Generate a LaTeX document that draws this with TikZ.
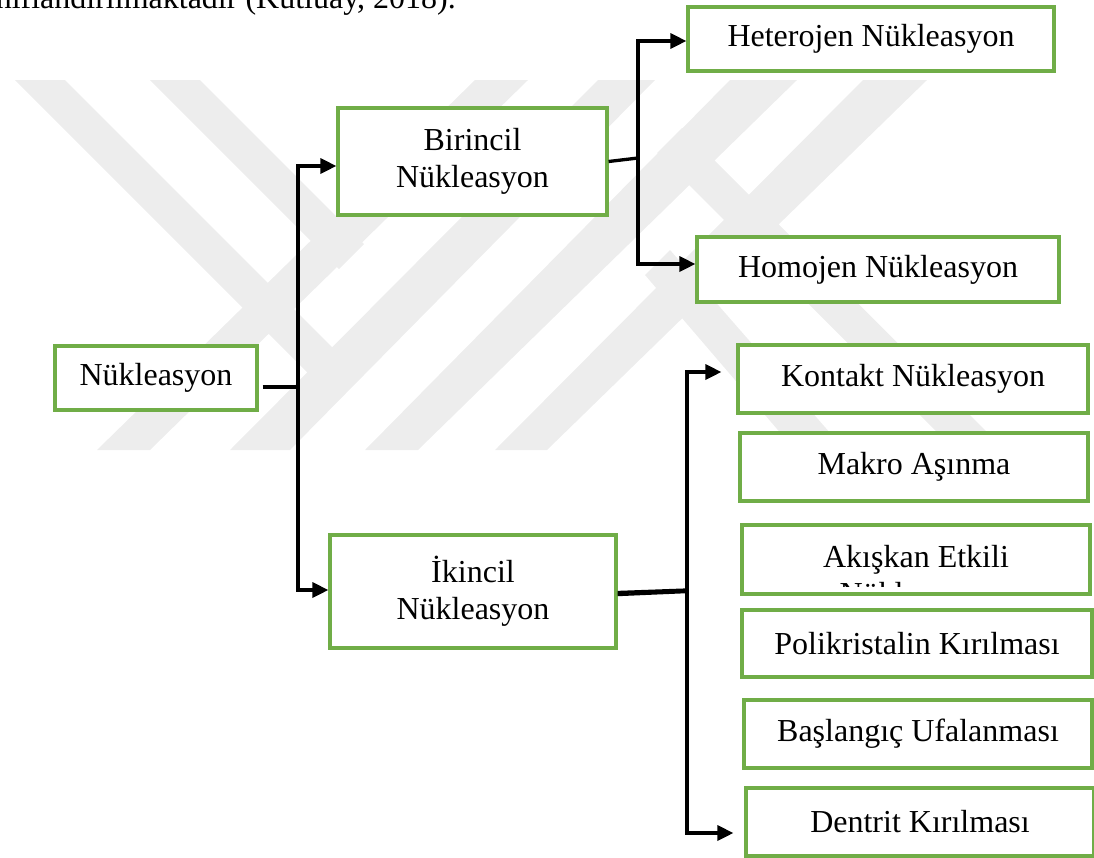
\documentclass[tikz,border=0pt]{standalone}
\usepackage{fontspec}
\setmainfont{Liberation Serif}
\usetikzlibrary{arrows.meta,calc}
\definecolor{boxgreen}{RGB}{112,173,71}
\definecolor{wm}{RGB}{237,237,237}
\begin{document}
\begin{tikzpicture}[x=1pt,y=-1pt,
  box/.style={draw=boxgreen,line width=3.2pt,fill=white,inner sep=0pt,
    font=\fontsize{32}{37}\selectfont,align=center},
  label/.style={inner sep=0pt,font=\fontsize{32}{37}\selectfont,align=center},
  conn/.style={line width=3.3pt,draw=black},
  arr/.style={conn,-{Triangle[length=16pt,width=15pt]}},
  band/.style={fill=wm,draw=none}]
\clip (0,0) rectangle (1094,857);
\useasboundingbox (0,0) rectangle (1094,857);
% watermark
\fill[band] (475,80) -- (528,80) -- (150,450) -- (97,450) -- cycle;
\fill[band] (598,80) -- (655,80) -- (290,450) -- (230,450) -- cycle;
\fill[band] (730,80) -- (797,80) -- (418,450) -- (365,450) -- cycle;
\fill[band] (863,80) -- (927,80) -- (547,450) -- (495,450) -- cycle;
\fill[band] (15,80) -- (65,80) -- (360,375) -- (335,400) -- cycle;
\fill[band] (150,80) -- (200,80) -- (364,244) -- (339,269) -- cycle;
\fill[band] (657,153) -- (682,128) -- (1005,450) -- (955,450) -- cycle;
\fill[band] (645,275) -- (670,250) -- (845,450) -- (795,450) -- cycle;
% caption line cut at the top
\node[label,anchor=base east] (cap) at (456,8) {sınıflandırılmaktadır (Kutluay, 2018).};
% boxes
\node[box,minimum width=366pt,minimum height=64pt] (het) at (871,39) {Heterojen Nükleasyon};
\node[box,minimum width=269pt,minimum height=107pt] (bir) at (472.5,161.5) {Birincil\\Nükleasyon};
\node[box,minimum width=362pt,minimum height=65pt] (hom) at (878,269.5) {Homojen Nükleasyon};
\node[box,minimum width=202pt,minimum height=64pt] (nuk) at (156,378) {Nükleasyon};
\node[box,minimum width=286pt,minimum height=113pt] (iki) at (473,591.5) {İkincil\\Nükleasyon};
\node[box,minimum width=350pt,minimum height=68pt] (kon) at (913,379) {Kontakt Nükleasyon};
\node[box,minimum width=348pt,minimum height=68pt] (mak) at (914,467) {Makro Aşınma};
\node[box,minimum width=348pt,minimum height=69pt] (aki) at (916,559.5) {};
\begin{scope}
  \clip (744,527) rectangle (1088,586);
  \node[label] (akit) at (916,578.5) {Akışkan Etkili\\Nükleasyon};
\end{scope}
\node[box,minimum width=350pt,minimum height=67pt] (pol) at (917,643.5) {Polikristalin Kırılması};
\node[box,minimum width=348pt,minimum height=68pt] (bas) at (918,734) {Başlangıç Ufalanması};
\node[box,minimum width=348pt,minimum height=68pt] (den) at (920,822) {Dentrit Kırılması};
% connectors
\coordinate (j1) at (298,387);
\coordinate (j2) at (638,158);
\coordinate (j3) at (687,590);
\draw[conn] ([xshift=4pt,yshift=-9pt]nuk.east) -- (j1);
\draw[arr] (j1) |- ([yshift=-4.5pt]bir.west);
\draw[arr] (j1) |- ([yshift=1.5pt]iki.west);
\draw[conn] (bir.east) -- (j2);
\draw[arr] (j2) |- ([yshift=-2pt]het.west);
\draw[arr] (j2) |- ([yshift=5.5pt]hom.west);
\draw[conn] ([yshift=-1pt]iki.east) -- (j3);
\draw[conn,line width=2.4pt] ([yshift=-3.5pt]iki.east) -- ([yshift=-2pt]j3);
\draw[arr] (j3) |- ([xshift=-15pt,yshift=7pt]kon.west);
\draw[arr] (j3) |- ([xshift=-11pt,yshift=-11pt]den.west);
\end{tikzpicture}
\end{document}
